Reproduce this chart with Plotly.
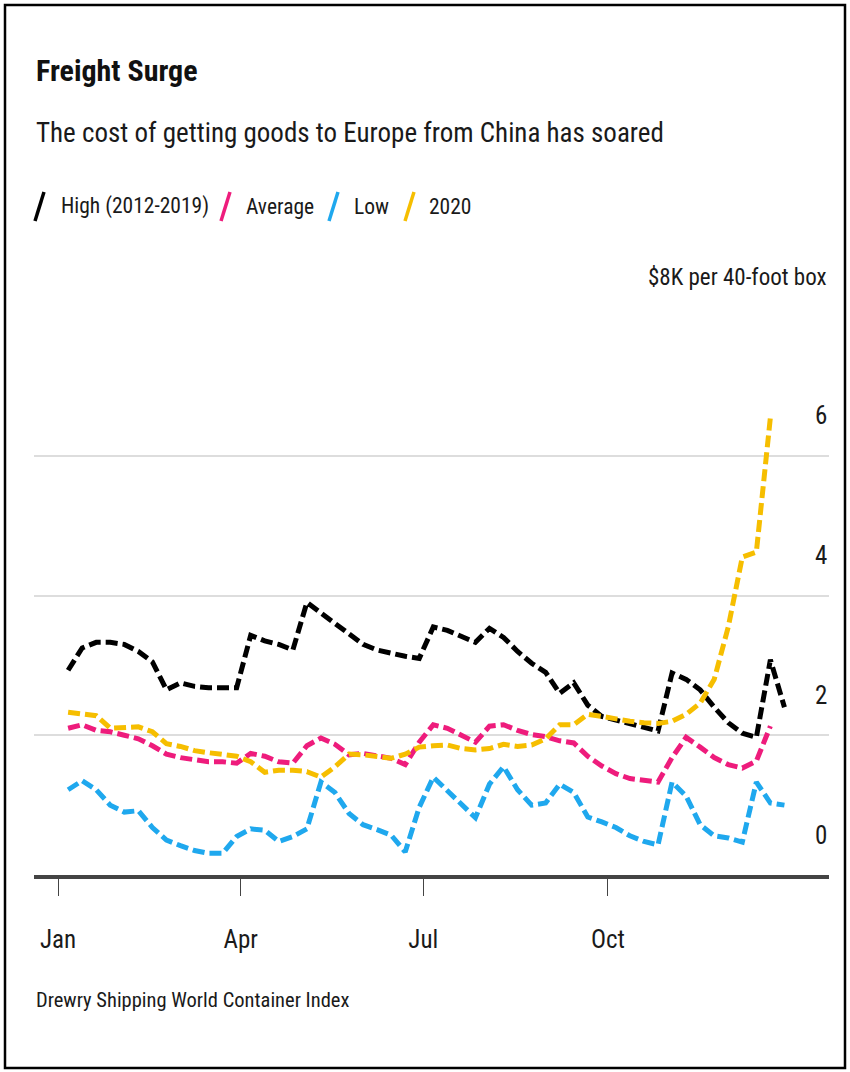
import pandas as pd
import plotly.graph_objects as go

# ---- data ----
weeks_hist = pd.date_range("2020-01-06", periods=52, freq="7D")

high = [2.93, 3.25, 3.33, 3.33, 3.30, 3.20, 3.05, 2.65, 2.75, 2.70,
        2.68, 2.68, 2.68, 3.43, 3.35, 3.30, 3.22, 3.90, 3.75, 3.58,
        3.43, 3.30, 3.22, 3.17, 3.13, 3.10, 3.55, 3.50, 3.42, 3.33,
        3.53, 3.40, 3.20, 3.03, 2.90, 2.60, 2.75, 2.43, 2.27, 2.22,
        2.16, 2.12, 2.06, 2.89, 2.80, 2.65, 2.40, 2.18, 2.03, 1.97,
        3.08, 2.40]

average = [2.10, 2.15, 2.07, 2.05, 2.00, 1.95, 1.85, 1.73, 1.68, 1.65,
           1.62, 1.62, 1.60, 1.74, 1.70, 1.62, 1.60, 1.85, 1.96, 1.87,
           1.72, 1.74, 1.71, 1.67, 1.58, 1.90, 2.15, 2.10, 2.00, 1.90,
           2.13, 2.15, 2.07, 2.01, 1.98, 1.92, 1.89, 1.70, 1.56, 1.45,
           1.38, 1.35, 1.33, 1.68, 1.97, 1.83, 1.68, 1.58, 1.53, 1.63,
           2.13]

low = [1.22, 1.35, 1.22, 1.00, 0.90, 0.92, 0.68, 0.50, 0.42, 0.35,
       0.31, 0.31, 0.55, 0.66, 0.64, 0.48, 0.55, 0.66, 1.33, 1.18,
       0.88, 0.72, 0.65, 0.57, 0.33, 0.97, 1.40, 1.20, 1.02, 0.82,
       1.30, 1.55, 1.22, 1.00, 1.03, 1.30, 1.18, 0.83, 0.76, 0.68,
       0.56, 0.48, 0.43, 1.33, 1.13, 0.72, 0.56, 0.53, 0.47, 1.33,
       1.03, 1.00]

y2020 = [2.33, 2.31, 2.28, 2.10, 2.11, 2.12, 2.05, 1.88, 1.84, 1.78,
         1.75, 1.73, 1.70, 1.62, 1.47, 1.50, 1.50, 1.48, 1.40, 1.55,
         1.73, 1.72, 1.70, 1.67, 1.73, 1.83, 1.85, 1.86, 1.81, 1.79,
         1.81, 1.87, 1.84, 1.86, 1.95, 2.15, 2.15, 2.30, 2.27, 2.23,
         2.20, 2.18, 2.17, 2.20, 2.30, 2.46, 2.80, 3.55, 4.55, 4.62,
         6.55]

series_names = ["High (2012-2019)", "Average", "Low", "2020"]
series_colors = ["#000000", "#EE1C7C", "#1FA8EE", "#F6BE00"]
series_values = [high, average, low, y2020]

y_ticks = [0, 2, 4, 6]
y_unit_label = "$8K per 40-foot box"
x_tick_vals = ["2020-01-01", "2020-04-01", "2020-07-01", "2020-10-01"]
x_tick_text = ["Jan", "Apr", "Jul", "Oct"]

title = "Freight Surge"
subtitle = "The cost of getting goods to Europe from China has soared"
source = "Drewry Shipping World Container Index"

# ---- layout geometry ----
W, H = 850, 1072
L, R, T, B = 34, 829, 316, 875
FONT = "Liberation Sans Narrow, Roboto Condensed, DejaVu Sans Condensed, Arial Narrow, sans-serif"
TXT = "#1a1a1a"


def px(x):
    return (x - L) / (R - L)


def py(y):
    return (B - y) / (B - T)


fig = go.Figure()
for name, color, vals in zip(series_names, series_colors, series_values):
    fig.add_trace(go.Scatter(
        x=weeks_hist[:len(vals)], y=vals, mode="lines", name=name,
        line=dict(color=color, width=5, dash="12px,5px"),
        showlegend=False, hoverinfo="skip"))

ann = []
ann.append(dict(text="<b>" + title + "</b>", x=px(34), y=py(70), xref="paper", yref="paper",
                xanchor="left", yanchor="middle", showarrow=False,
                font=dict(family=FONT, size=30, color="#111111")))
ann.append(dict(text=subtitle, x=px(34), y=py(133), xref="paper", yref="paper",
                xanchor="left", yanchor="middle", showarrow=False,
                font=dict(family=FONT, size=27, color=TXT)))

# legend (manual, slash markers)
leg_slash_x = [35, 221, 329, 405]
leg_text_x = [59, 244, 352, 427]
shapes = []
for name, color, sx, tx in zip(series_names, series_colors, leg_slash_x, leg_text_x):
    shapes.append(dict(type="line", xref="paper", yref="paper",
                       x0=px(sx), y0=py(221), x1=px(sx + 9), y1=py(192),
                       line=dict(color=color, width=3.5)))
    ann.append(dict(text=name, x=px(tx), y=py(206), xref="paper", yref="paper",
                    xanchor="left", yanchor="middle", showarrow=False,
                    font=dict(family=FONT, size=21.5, color=TXT)))

# y labels above gridlines
for v in y_ticks:
    ann.append(dict(text=str(v), x=1.0, y=v, xref="paper", yref="y", yshift=40,
                    xanchor="right", yanchor="middle", showarrow=False,
                    font=dict(family=FONT, size=25, color=TXT)))
ann.append(dict(text=y_unit_label, x=1.0, y=8, xref="paper", yref="y", yshift=39,
                xanchor="right", yanchor="middle", showarrow=False,
                font=dict(family=FONT, size=23, color=TXT)))

ann.append(dict(text=source, x=px(34), y=py(1000), xref="paper", yref="paper",
                xanchor="left", yanchor="middle", showarrow=False,
                font=dict(family=FONT, size=20.5, color=TXT)))

# outer frame
shapes.append(dict(type="rect", xref="paper", yref="paper",
                   x0=px(5), x1=px(845), y0=py(1068), y1=py(5),
                   line=dict(color="#000000", width=2.5), fillcolor="rgba(0,0,0,0)", layer="above"))

fig.update_layout(
    width=W, height=H,
    margin=dict(l=L, r=W - R, t=T, b=H - B, pad=0),
    paper_bgcolor="white", plot_bgcolor="white",
    annotations=ann, shapes=shapes,
    xaxis=dict(range=["2019-12-20", "2021-01-19 05:00"], type="date",
               tickvals=x_tick_vals, ticktext=x_tick_text,
               ticks="outside", ticklen=17, tickwidth=1, tickcolor="#444444",
               showline=True, linecolor="#444444", linewidth=3.5,
               showgrid=False, zeroline=False,
               ticklabelstandoff=22,
               tickfont=dict(family=FONT, size=25, color=TXT)),
    yaxis=dict(range=[0, 8], dtick=2, tick0=0, showgrid=True,
               gridcolor="#dddddd", gridwidth=2, zeroline=False,
               showticklabels=False, showline=False, side="right"),
)

fig.write_html("out.html", config={"displayModeBar": False},
               post_script="document.body.style.margin='0px';")
